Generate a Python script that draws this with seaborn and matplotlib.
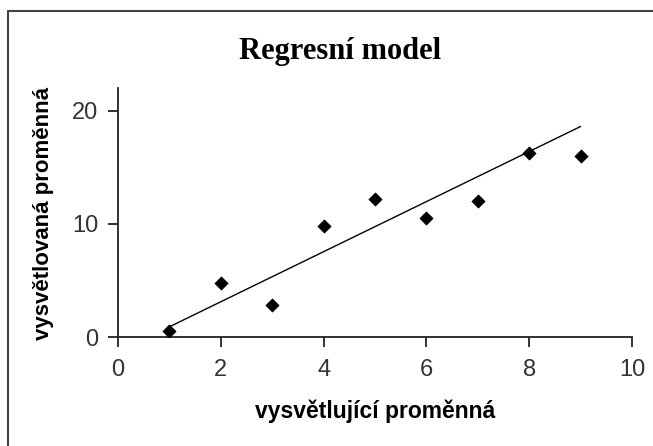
import matplotlib
matplotlib.use("Agg")
import matplotlib.pyplot as plt
import seaborn as sns
import pandas as pd
from matplotlib.lines import Line2D

# data
x_vals = [1, 2, 3, 4, 5, 6, 7, 8, 9]
y_vals = [0.5, 4.77, 2.81, 9.84, 12.18, 10.51, 12.06, 16.22, 15.96]
line_x = [1, 9]
line_y = [0.9, 18.6]
x_ticks = [0, 2, 4, 6, 8, 10]
y_ticks = [0, 10, 20]
title = "Regresní model"
x_label = "vysvětlující proměnná"
y_label = "vysvětlovaná proměnná"

sns.set_style("white")
plt.rcParams['font.family'] = ['Liberation Sans', 'DejaVu Sans']

fig = plt.figure(figsize=(6.53, 4.46), dpi=100)
ax = fig.add_axes([118/653, 109/446, 514/653, 249/446])

pts = pd.DataFrame({"x": x_vals, "y": y_vals})
ln = pd.DataFrame({"x": line_x, "y": line_y})
sns.lineplot(data=ln, x="x", y="y", ax=ax, color="black", linewidth=1.0)
sns.scatterplot(data=pts, x="x", y="y", ax=ax, marker="D", s=45, color="black",
                edgecolor="black", linewidth=0.5, zorder=5)

ax.set_xlim(0, 10)
ax.set_ylim(0, 22)
ax.set_xticks(x_ticks)
ax.set_yticks(y_ticks)
ax.set_xticklabels([str(t) for t in x_ticks])
ax.set_yticklabels([str(t) for t in y_ticks])
for s in ["top", "right"]:
    ax.spines[s].set_visible(False)
for s in ["left", "bottom"]:
    ax.spines[s].set_color("#222222")
    ax.spines[s].set_linewidth(1.3)
ax.tick_params(axis="both", direction="out", length=7, width=1.3, color="#222222",
               labelsize=17, labelcolor="#333333", bottom=True, left=True)
ax.tick_params(axis="x", pad=9)
ax.tick_params(axis="y", pad=7)
ax.set_xlabel("")
ax.set_ylabel("")

fig.text(375/653, 1 - 411/446, x_label, ha="center", va="center",
         fontsize=16.5, fontweight="bold", color="black")
fig.text(44/653, 1 - 213/446, y_label, ha="center", va="center", rotation=90,
         fontsize=16, fontweight="bold", color="black")
fig.text(340/653, 1 - 52/446, title, ha="center", va="center", color="black",
         fontsize=22, fontweight="bold", family=["Liberation Serif", "DejaVu Serif"])

# outer chart border (left and top visible)
fig.add_artist(Line2D([8/653, 8/653], [0, 1 - 11/446], transform=fig.transFigure,
                      color="#444444", linewidth=1.5))
fig.add_artist(Line2D([8/653, 1], [1 - 11/446, 1 - 11/446], transform=fig.transFigure,
                      color="#444444", linewidth=1.5))

fig.savefig("out.png", dpi=100)
